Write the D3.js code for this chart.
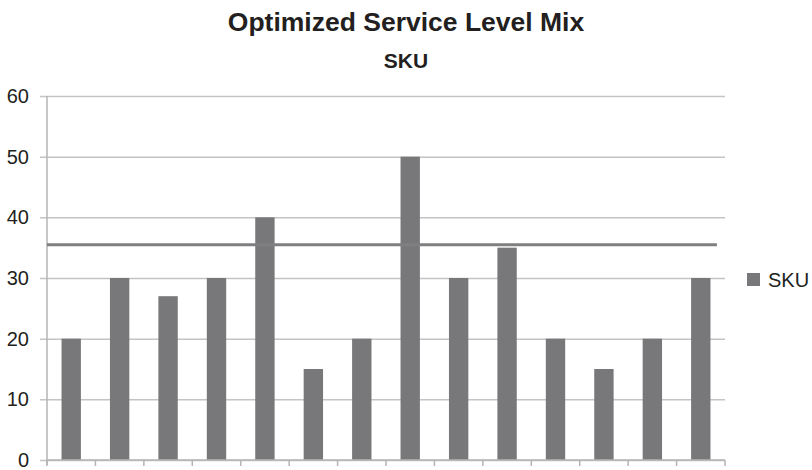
<!DOCTYPE html>
<html>
<head>
<meta charset="utf-8">
<script src="https://cdn.jsdelivr.net/npm/d3@7"></script>
<style>
  html, body { margin: 0; padding: 0; background: #fff; }
  svg { display: block; font-family: "Liberation Sans", Arial, sans-serif; }
</style>
</head>
<body>
<svg id="chart" width="812" height="470"></svg>
<script>
// Service level per SKU
const categories = ["1", "2", "3", "4", "5", "6", "7", "8", "9", "10", "11", "12", "13", "14"];
const skuValues = [20, 30, 27, 30, 40, 15, 20, 50, 30, 35, 20, 15, 20, 30];
const targetLevel = 35.5;
const yTicks = [0, 10, 20, 30, 40, 50, 60];
const titleText = "Optimized Service Level Mix";
const subtitleText = "SKU";
const seriesName = "SKU";

const svg = d3.select("#chart");
const plot = { left: 47, right: 725, top: 96, bottom: 460 };

const x = d3.scaleBand()
  .domain(categories)
  .range([plot.left, plot.right])
  .paddingInner(0.6)
  .paddingOuter(0.3);

const y = d3.scaleLinear()
  .domain([0, 60])
  .range([plot.bottom, plot.top]);

// Title and subtitle
svg.append("text")
  .attr("x", 406).attr("y", 31)
  .attr("text-anchor", "middle")
  .attr("font-size", 26.5).attr("font-weight", "bold")
  .attr("fill", "#231f20")
  .text(titleText);

svg.append("text")
  .attr("x", 406).attr("y", 68)
  .attr("text-anchor", "middle")
  .attr("font-size", 21).attr("font-weight", "bold")
  .attr("fill", "#231f20")
  .text(subtitleText);

// Horizontal gridlines with left tick stubs
const yAxis = d3.axisLeft(y)
  .tickValues(yTicks)
  .tickSize(-(plot.right - plot.left))
  .tickSizeOuter(0)
  .tickPadding(18);

const gy = svg.append("g")
  .attr("transform", `translate(${plot.left},0)`)
  .call(yAxis);
gy.select(".domain").remove();
gy.selectAll(".tick line")
  .attr("x1", -7)
  .attr("stroke", "#c4c4c4")
  .attr("stroke-width", 1.5);
gy.selectAll(".tick text")
  .attr("font-size", 20)
  .attr("fill", "#231f20")
  .attr("font-family", "Liberation Sans, Arial, sans-serif");

// Vertical axis line
svg.append("line")
  .attr("x1", plot.left).attr("x2", plot.left)
  .attr("y1", y(60)).attr("y2", plot.bottom + 5)
  .attr("stroke", "#b4b4b4").attr("stroke-width", 1.5);

// Bars
svg.append("g")
  .selectAll("rect")
  .data(skuValues)
  .join("rect")
  .attr("x", (d, i) => x(categories[i]))
  .attr("y", d => y(d))
  .attr("width", x.bandwidth())
  .attr("height", d => y(0) - y(d))
  .attr("fill", "#78787b");

// Category axis with boundary ticks
svg.append("line")
  .attr("x1", plot.left).attr("x2", plot.right)
  .attr("y1", plot.bottom).attr("y2", plot.bottom)
  .attr("stroke", "#b4b4b4").attr("stroke-width", 1.5);

const boundaries = d3.range(categories.length + 1).map(i => plot.left + i * x.step());
svg.append("g")
  .selectAll("line")
  .data(boundaries)
  .join("line")
  .attr("x1", d => d).attr("x2", d => d)
  .attr("y1", plot.bottom).attr("y2", plot.bottom + 6)
  .attr("stroke", "#b4b4b4").attr("stroke-width", 1.5);

// Target level line
svg.append("line")
  .attr("x1", plot.left)
  .attr("x2", plot.right - x.step() / 6)
  .attr("y1", y(targetLevel)).attr("y2", y(targetLevel))
  .attr("stroke", "#7f7f82").attr("stroke-width", 3);

// Legend
const legend = svg.append("g").attr("transform", "translate(747,273)");
legend.append("rect")
  .attr("width", 13).attr("height", 13)
  .attr("fill", "#78787b");
legend.append("text")
  .attr("x", 21).attr("y", 13.5)
  .attr("font-size", 20)
  .attr("fill", "#231f20")
  .text(seriesName);
</script>
</body>
</html>
